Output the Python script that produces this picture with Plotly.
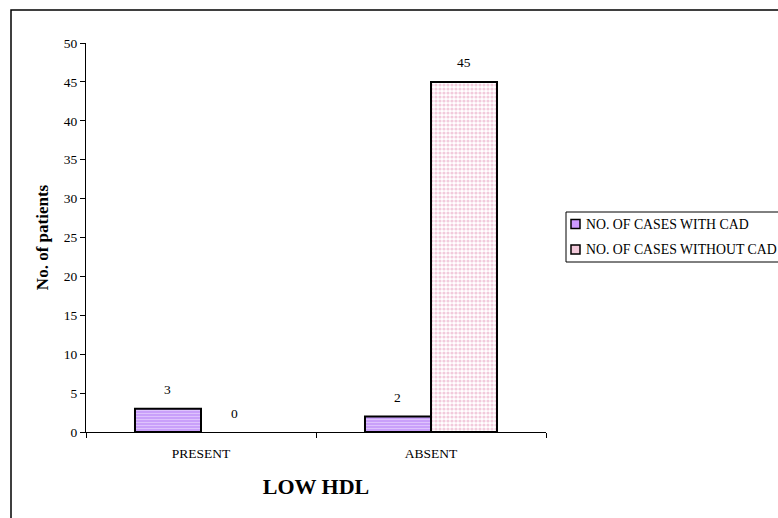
import plotly.graph_objects as go

# Categories and counts
categories = ["PRESENT", "ABSENT"]
with_cad = [3, 2]
without_cad = [0, 45]
series_names = ["NO. OF CASES WITH CAD", "NO. OF CASES WITHOUT CAD"]
y_ticks = [0, 5, 10, 15, 20, 25, 30, 35, 40, 45, 50]

W, H = 778, 518
L, R, T, B = 86, 232, 43, 86
plot_w = W - L - R
plot_h = H - T - B
serif = "Liberation Serif"

def px_x(x):
    return (x - L) / plot_w

def px_y(y):
    return (H - B - y) / plot_h

def outline(vals):
    # empty bars get no outline so nothing is drawn along the axis
    return dict(color="black", width=[2 if v else 0 for v in vals])

fill_with = dict(color="#CC99FF", line=outline(with_cad),
                 pattern=dict(shape="-", fgcolor="#F3E6FF", bgcolor="#C9A0FA",
                              size=3, solidity=0.35))
fill_without = dict(color="white", line=outline(without_cad),
                    pattern=dict(shape=".", fgcolor="#E597BA", bgcolor="white",
                                 size=4, solidity=0.5))

fig = go.Figure()
fig.add_trace(go.Bar(name=series_names[0], x=categories, y=with_cad,
                     marker=fill_with, showlegend=False))
fig.add_trace(go.Bar(name=series_names[1], x=categories, y=without_cad,
                     marker=fill_without, showlegend=False))

# value labels above each bar
bargap = 0.426
bar_px = (1 - bargap) / 2 * plot_w / len(categories)
for vals, sign in ((with_cad, -1), (without_cad, 1)):
    for cat, v in zip(categories, vals):
        fig.add_annotation(x=cat, y=v, text=str(v), showarrow=False,
                           xshift=sign * bar_px / 2, yshift=19, yanchor="middle",
                           font=dict(family=serif, size=13.5, color="black"))

# outer frame around the chart
fig.add_shape(type="rect", xref="paper", yref="paper",
              x0=px_x(11), x1=px_x(800), y0=px_y(540), y1=px_y(10),
              line=dict(color="black", width=1.5), fillcolor="rgba(0,0,0,0)")

# legend box with swatches
fig.add_shape(type="rect", xref="paper", yref="paper",
              x0=px_x(566), x1=px_x(800), y0=px_y(262), y1=px_y(212),
              line=dict(color="black", width=1), fillcolor="white")
swatches = ["#CC99FF", "#F2C9DA"]
for i, (name, col) in enumerate(zip(series_names, swatches)):
    yc = 224 + 25.5 * i
    fig.add_shape(type="rect", xref="paper", yref="paper",
                  x0=px_x(571), x1=px_x(580), y0=px_y(yc + 4.5), y1=px_y(yc - 4.5),
                  line=dict(color="black", width=1.5), fillcolor=col)
    fig.add_annotation(xref="paper", yref="paper", x=px_x(584), y=px_y(yc),
                       text=name, showarrow=False, xanchor="left", yanchor="middle",
                       font=dict(family=serif, size=13.8, color="black"))

fig.update_layout(
    width=W, height=H,
    margin=dict(l=L, r=R, t=T, b=B, autoexpand=False),
    paper_bgcolor="white", plot_bgcolor="white",
    barmode="group", bargap=bargap, bargroupgap=0,
    font=dict(family=serif, size=13.5, color="black"),
    showlegend=False,
    xaxis=dict(
        showline=True, linecolor="black", linewidth=1,
        ticks="outside", ticklen=5, tickson="boundaries", tickcolor="black",
        tickfont=dict(family=serif, size=13.5), ticklabelstandoff=9,
        title=dict(text="<b>LOW HDL</b>", font=dict(family=serif, size=22), standoff=18),
    ),
    yaxis=dict(
        range=[0, 50], tickvals=y_ticks,
        showline=True, linecolor="black", linewidth=1,
        ticks="outside", ticklen=5, tickcolor="black",
        showgrid=False, zeroline=False,
        tickfont=dict(family=serif, size=13.5),
        title=dict(text="<b>No. of patients</b>", font=dict(family=serif, size=17), standoff=10),
    ),
)

fig.write_html("out.html")
